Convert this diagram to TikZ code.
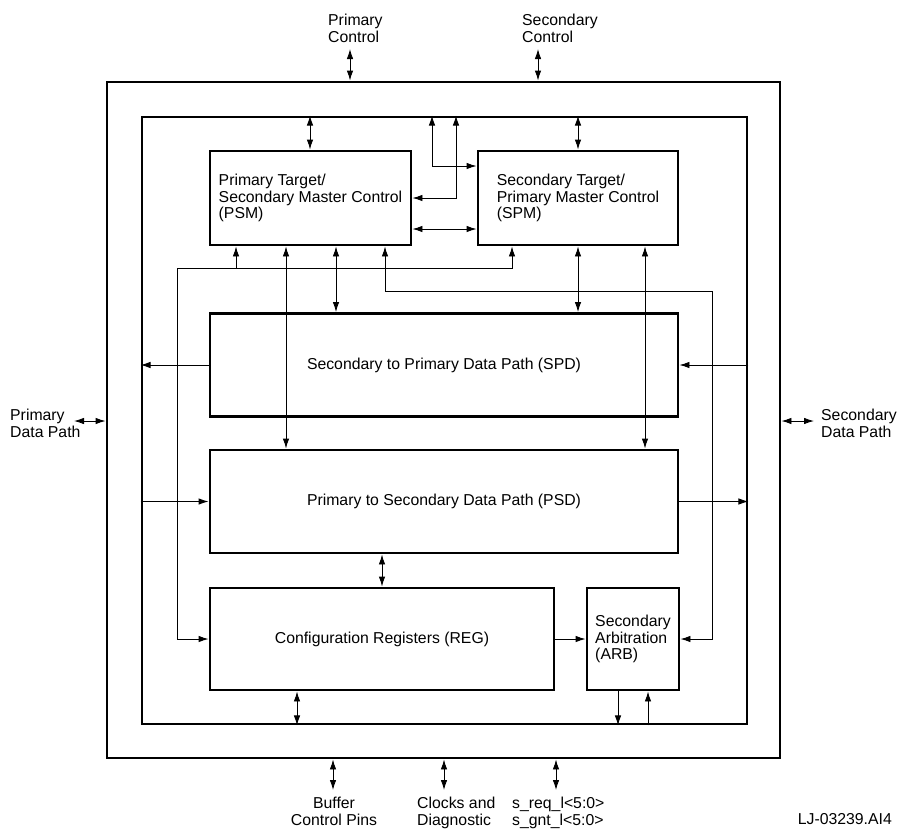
\documentclass[tikz,border=0pt]{standalone}
\usepackage{fontspec}
\setmainfont{Liberation Sans}
\usetikzlibrary{arrows.meta}
\newcommand{\dfont}{\fontsize{15.8pt}{16.5pt}\selectfont}
\begin{document}
\begin{tikzpicture}[x=1pt,y=-1pt,
  box/.style={draw, line width=2.9pt, inner sep=0pt, font=\dfont, align=left},
  frame/.style={draw, line width=2.9pt, inner sep=0pt},
  lbl/.style={inner sep=0pt, font=\dfont},
  conn/.style={line width=0.9pt},
  arr/.style={conn, -{Latex[length=10pt,width=6.5pt]}},
  darr/.style={conn, {Latex[length=10pt,width=6.5pt]}-{Latex[length=10pt,width=6.5pt]}},
]
\useasboundingbox (0,0) rectangle (897,828);

% frames
\node[frame, minimum width=673pt, minimum height=676pt] (outer) at (443.5,420) {};
\node[frame, minimum width=605pt, minimum height=607pt] (inner) at (444.5,420.5) {};

% blocks
\node[box, minimum width=201pt, minimum height=94pt] (psm) at (310.5,198) {Primary Target/\\Secondary Master Control\\(PSM)};
\node[box, minimum width=200pt, minimum height=94pt] (spm) at (578,198) {Secondary Target/\\Primary Master Control\\(SPM)};
\node[box, minimum width=468pt, minimum height=103pt] (spd) at (444,365) {Secondary to Primary Data Path (SPD)};
\node[box, minimum width=468pt, minimum height=103pt] (psd) at (444,501.5) {Primary to Secondary Data Path (PSD)};
\node[box, minimum width=344pt, minimum height=102pt] (reg) at (382,639) {Configuration Registers (REG)};
\node[box, minimum width=92pt, minimum height=102pt] (arb) at (633,639) {Secondary\\Arbitration\\(ARB)};

% external labels
\node[lbl, align=left, anchor=north west] (pctl) at (328,14) {Primary\\Control};
\node[lbl, align=left, anchor=north west] (sctl) at (522,14) {Secondary\\Control};
\node[lbl, align=left, anchor=north west] (pdp) at (10,409) {Primary\\Data Path};
\node[lbl, align=left, anchor=north west] (sdp) at (821,409) {Secondary\\Data Path};
\node[lbl, align=center, anchor=north] (bcp) at (334,797) {Buffer\\Control Pins};
\node[lbl, align=left, anchor=north west] (ckd) at (417,797) {Clocks and\\Diagnostic};
\node[lbl, align=left, anchor=north west] (sreq) at (512,797) {s\_req\_l<5:0>\\s\_gnt\_l<5:0>};
\node[lbl, anchor=north east] (fig) at (892,813) {LJ-03239.AI4};

% external connectors
\coordinate (pcA) at (350,49);
\coordinate (scA) at (538,49);
\coordinate (pdA) at (74,421);
\coordinate (sdA) at (814,421);
\coordinate (bcA) at (333,790);
\coordinate (clA) at (444,790);
\coordinate (srA) at (556,790);
\draw[darr] (pcA) -- (pcA |- outer.north);
\draw[darr] (scA) -- (scA |- outer.north);
\draw[darr] (pdA) -- (pdA -| outer.west);
\draw[darr] (sdA) -- (sdA -| outer.east);
\draw[darr] (bcA) -- (bcA |- outer.south);
\draw[darr] (clA) -- (clA |- outer.south);
\draw[darr] (srA) -- (srA |- outer.south);

% top of inner frame
\draw[darr] (310,0 |- inner.north) -- (310,0 |- psm.north);
\draw[darr] (578,0 |- inner.north) -- (578,0 |- spm.north);
\draw[darr] (432,0 |- inner.north) -- (432,166) -- (432,166 -| spm.west);
\draw[darr] (456,0 |- inner.north) -- (456,198) -- (456,198 -| psm.east);
\draw[darr] (psm.east |- 0,229) -- (spm.west |- 0,229);

% register bus
\draw[darr] (reg.west) -- (177,0 |- reg.west) -- (177,268) -- (512,268) -- (512,0 |- spm.south);
\draw[arr] (236,268) -- (236,0 |- psm.south);

% PSM / SPM bottom links
\draw[darr] (286,0 |- psm.south) -- (286,0 |- psd.north);
\draw[darr] (336,0 |- psm.south) -- (336,0 |- spd.north);
\draw[darr] (385,0 |- psm.south) -- (385,291) -- (712,291) -- (712,0 |- arb.east) -- (arb.east);
\draw[darr] (578,0 |- spm.south) -- (578,0 |- spd.north);
\draw[darr] (645,0 |- spm.south) -- (645,0 |- psd.north);

% data paths
\draw[arr] (spd.west) -- (spd.west -| inner.west);
\draw[arr] (psd.west -| inner.west) -- (psd.west);
\draw[arr] (spd.east -| inner.east) -- (spd.east);
\draw[arr] (psd.east) -- (psd.east -| inner.east);

% lower blocks
\draw[darr] (reg.north |- psd.south) -- (reg.north);
\draw[arr] (reg.east) -- (arb.west);
\draw[arr] (618,0 |- arb.south) -- (618,0 |- inner.south);
\draw[arr] (648,0 |- inner.south) -- (648,0 |- arb.south);
\draw[darr] (297,0 |- reg.south) -- (297,0 |- inner.south);
\end{tikzpicture}
\end{document}
